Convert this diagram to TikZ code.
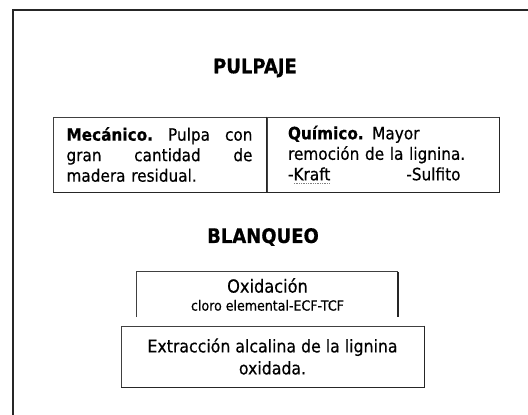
\documentclass[tikz,border=0pt]{standalone}
\usepackage{fontspec}
\setmainfont{DejaVu Sans}[FakeStretch=0.9,FakeBold=0.5]
\usepackage{tikz}

\newcommand{\squig}[1]{\setbox0\hbox{#1}\rlap{\textcolor{gray}{\lower3pt\hbox to\wd0{\xleaders\hbox{\kern0.4pt\rule{0.9pt}{0.6pt}\kern0.4pt}\hfill}}}#1}

\begin{document}
\begin{tikzpicture}[x=1pt,y=-1pt,
  boxtext/.style={font=\fontsize{17}{20.5}\selectfont,inner sep=0pt},
  titletext/.style={font=\fontsize{20}{24}\selectfont\bfseries},
  thinedge/.style={draw=black!75,line width=0.8pt},
  shadeedge/.style={draw=black!85,line width=1.6pt}]
\useasboundingbox (0,0) rectangle (528,415);
\draw[black!85,line width=2.2pt] (13,415) |- (528,10);

\node[titletext] (pulpaje) at (255,68) {PULPAJE};

\node[boxtext,thinedge,minimum width=213pt,minimum height=75pt,
  text width=186pt,align=left] (mec) at (159.5,154.5)
  {\textbf{Mecánico.}\hfill Pulpa\hfill con\\gran\hfill cantidad\hfill de\\madera residual.};
\draw[shadeedge] (mec.north east) |- (mec.south west);

\node[boxtext,thinedge,minimum width=232pt,minimum height=75pt,
  text width=190pt,align=left] (qui) at (383,154.5)
  {\textbf{Químico.} Mayor\\remoción de la lignina.\\-\squig{Kraft}\hspace{76pt}-Sulfito};
\draw[shadeedge] (qui.north east) |- (qui.south west);

\node[titletext] (blanqueo) at (263,237) {BLANQUEO};

\node[boxtext,font=\fontsize{18}{21}\selectfont,minimum width=261pt,minimum height=45pt,
  align=center] (oxi) at (267.5,294.5)
  {Oxidación\\[-3pt]{\fontsize{14}{16}\selectfont cloro elemental-ECF-TCF}};
\draw[thinedge] (oxi.south west) |- (oxi.north east);
\draw[shadeedge] (oxi.north east) -- (oxi.south east);

\node[boxtext,thinedge,font=\fontsize{17.5}{22}\selectfont,minimum width=303pt,
  minimum height=61pt,align=center] (ext) at (272.5,356.5)
  {Extracción alcalina de la lignina\\oxidada.};
\draw[shadeedge] (ext.north east) |- (ext.south west);
\end{tikzpicture}
\end{document}
